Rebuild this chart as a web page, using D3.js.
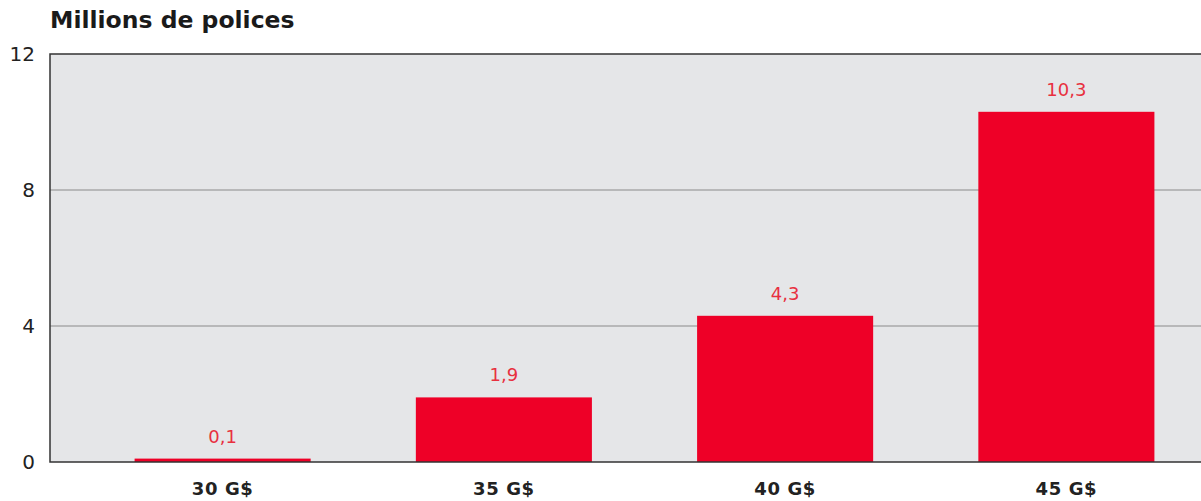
<!DOCTYPE html>
<html>
<head>
<meta charset="utf-8">
<script src="https://cdn.jsdelivr.net/npm/d3@7"></script>
<style>
  body { margin: 0; background: #fff; }
  svg { display: block; font-family: "DejaVu Sans", "Liberation Sans", sans-serif; }
</style>
</head>
<body>
<svg id="chart" width="1201" height="501"></svg>
<script>
const categories = ["30 G$", "35 G$", "40 G$", "45 G$"];
const values = [0.1, 1.9, 4.3, 10.3];
const valueLabels = ["0,1", "1,9", "4,3", "10,3"];
const yTicks = [0, 4, 8, 12];

const svg = d3.select("#chart");
const plotLeft = 50, plotTop = 54, plotBottom = 462, plotRight = 1201;

const x = d3.scaleBand().domain(categories).range([82, 1207]).paddingInner(0.374).paddingOuter(0.187);
const y = d3.scaleLinear().domain([0, 12]).range([plotBottom, plotTop]);

// plot background
svg.append("rect").attr("x", plotLeft).attr("y", plotTop)
  .attr("width", plotRight - plotLeft).attr("height", plotBottom - plotTop)
  .attr("fill", "#e5e6e8");

// gridlines
svg.append("g").selectAll("line").data(yTicks.filter(d => d > 0 && d < 12)).join("line")
  .attr("x1", plotLeft).attr("x2", plotRight)
  .attr("y1", d => y(d)).attr("y2", d => y(d))
  .attr("stroke", "#8a8a8a").attr("stroke-width", 1);

// bars
svg.append("g").selectAll("rect").data(values).join("rect")
  .attr("x", (d, i) => x(categories[i]))
  .attr("width", x.bandwidth())
  .attr("y", d => y(d))
  .attr("height", d => y(0) - y(d))
  .attr("fill", "#ee0027");

// value labels
svg.append("g").selectAll("text").data(values).join("text")
  .attr("x", (d, i) => x(categories[i]) + x.bandwidth() / 2)
  .attr("y", d => y(d) - 16)
  .attr("text-anchor", "middle")
  .attr("font-size", 18)
  .attr("fill", "#e8303f")
  .text((d, i) => valueLabels[i]);

// frame: top, left, bottom
svg.append("path")
  .attr("d", `M${plotRight},${plotTop}H${plotLeft}V${plotBottom}H${plotRight}`)
  .attr("fill", "none").attr("stroke", "#333").attr("stroke-width", 1.5);

// y tick labels
svg.append("g").selectAll("text").data(yTicks).join("text")
  .attr("x", 35).attr("y", d => y(d) + 7)
  .attr("text-anchor", "end")
  .attr("font-size", 20)
  .attr("fill", "#222")
  .text(d => d);

// category labels
svg.append("g").selectAll("text").data(categories).join("text")
  .attr("x", d => x(d) + x.bandwidth() / 2)
  .attr("y", 495)
  .attr("text-anchor", "middle")
  .attr("font-size", 18)
  .attr("font-weight", "bold")
  .attr("letter-spacing", 0.6)
  .attr("fill", "#222")
  .text(d => d);

// title
svg.append("text").attr("x", 50).attr("y", 28)
  .attr("font-size", 23.5).attr("font-weight", "bold").attr("fill", "#1a1a1a")
  .text("Millions de polices");
</script>
</body>
</html>
